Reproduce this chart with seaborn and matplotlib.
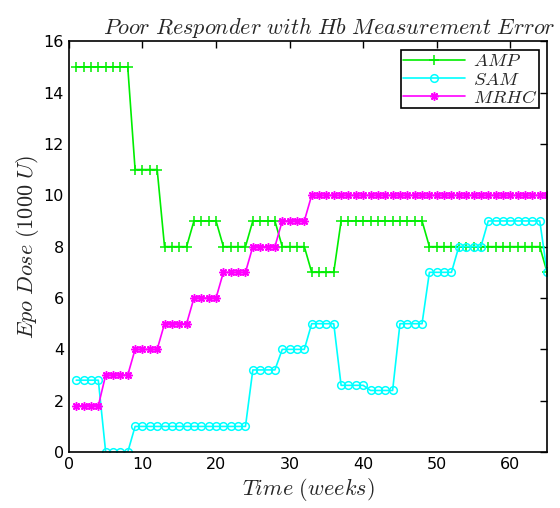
import numpy as np
import pandas as pd
import matplotlib
matplotlib.use("Agg")
import matplotlib.pyplot as plt
import seaborn as sns

# weekly epo dose (1000 U), weeks 1..65
weeks = list(range(1, 66))
amp = [15]*8 + [11]*4 + [8]*4 + [9]*4 + [8]*4 + [9]*4 + [8]*4 + [7]*4 + [9]*12 + [8]*16 + [7]
sam = [2.8]*4 + [0]*4 + [1]*16 + [3.2]*4 + [4]*4 + [5]*4 + [2.6]*4 + [2.4]*4 + [5]*4 + [7]*4 + [8]*4 + [9]*8 + [7]
mrhc = [1.8]*4 + [3]*4 + [4]*4 + [5]*4 + [6]*4 + [7]*4 + [8]*4 + [9]*4 + [10]*33

names = ["AMP", "SAM", "MRHC"]
colors = ["#00ee00", "#00ffff", "#ff00ff"]
marks = ["+", "o", (8, 2, 0)]
msizes = [6.5, 5.5, 6]

df = pd.DataFrame({"week": weeks * 3,
                   "dose": amp + sam + mrhc,
                   "method": sum([[n]*len(weeks) for n in names], [])})

sns.set_style("white")
plt.rcParams["mathtext.fontset"] = "cm"
plt.rcParams["font.family"] = ["DejaVu Sans"]

fig, ax = plt.subplots(figsize=(5.6, 5.08), dpi=100)
fig.subplots_adjust(left=0.123, right=0.977, top=0.919, bottom=0.11)

for n, c, m, ms in zip(names, colors, marks, msizes):
    sns.lineplot(data=df[df["method"] == n], x="week", y="dose", ax=ax,
                 color=c, marker=m, markersize=ms, markerfacecolor="none",
                 markeredgecolor=c, markeredgewidth=1.1, linewidth=1.2,
                 label=r"$%s$" % n)

ax.set_xlim(0, 65)
ax.set_ylim(0, 16)
ax.set_xticks(range(0, 61, 10))
ax.set_yticks(range(0, 17, 2))
ax.tick_params(direction="in", length=5, width=1, top=True, right=True,
               labelsize=11.5, colors="black")
for s in ax.spines.values():
    s.set_color("black")
    s.set_linewidth(1.2)

ax.set_title(r"$Poor\ Responder\ with\ Hb\ Measurement\ Error$", fontsize=16,
             pad=5, x=0.545)
ax.set_xlabel(r"$Time\ (weeks)$", fontsize=16, labelpad=3)
ax.set_ylabel(r"$Epo\ Dose\ (1000\ U)$", fontsize=16, labelpad=2)

leg = ax.legend(loc="upper right", fontsize=13.5, fancybox=False, framealpha=1,
                edgecolor="black", borderpad=0.1, labelspacing=-0.05,
                handlelength=3.3, handletextpad=0.4, borderaxespad=0.45)
leg.get_frame().set_linewidth(1.2)

fig.savefig("out.png", dpi=100)
